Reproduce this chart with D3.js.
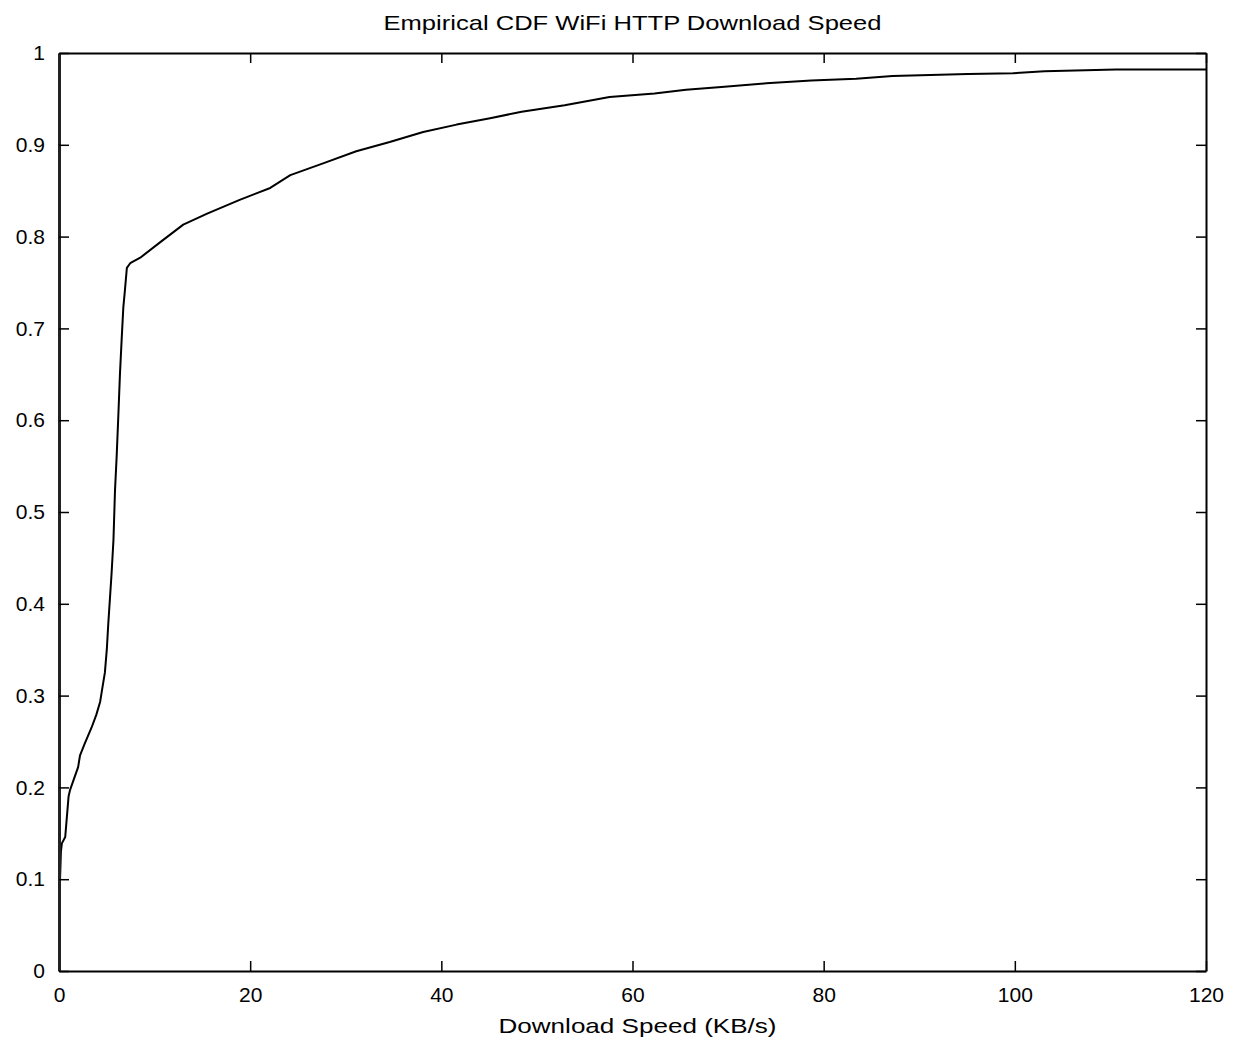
<!DOCTYPE html>
<html>
<head>
<meta charset="utf-8">
<script src="https://cdn.jsdelivr.net/npm/d3@7"></script>
<style>
  html, body { margin: 0; padding: 0; background: #fff; }
  svg { display: block; }
  text { font-family: "Liberation Sans", Arial, Helvetica, sans-serif; fill: #000; }
</style>
</head>
<body>
<svg id="chart" width="1245" height="1044"></svg>
<script>
const titleText = "Empirical CDF WiFi HTTP Download Speed";
const xLabelText = "Download Speed (KB/s)";
const xTicks = [0, 20, 40, 60, 80, 100, 120];
const yTicks = [0, 0.1, 0.2, 0.3, 0.4, 0.5, 0.6, 0.7, 0.8, 0.9, 1];
const yTickLabels = ["0", "0.1", "0.2", "0.3", "0.4", "0.5", "0.6", "0.7", "0.8", "0.9", "1"];

const speed = [0, 0.05, 0.2, 0.3, 0.65, 1.0, 1.15, 2.0, 2.2, 2.7, 3.4, 3.9, 4.3, 4.5, 4.8, 5.0, 5.16, 5.5, 5.7, 5.86, 6.03, 6.2, 6.38, 6.55, 6.73, 6.9, 7.1, 7.45, 8.5, 10.6, 13.0, 15.5, 18.9, 22.1, 24.2, 27.7, 31.1, 34.6, 38.1, 41.6, 45.1, 48.4, 52.9, 57.6, 62.3, 65.6, 69.3, 74.0, 78.7, 83.4, 87.2, 95.1, 99.8, 103.1, 110.6, 120];
const cdf = [0, 0.08, 0.13, 0.139, 0.146, 0.19, 0.197, 0.222, 0.235, 0.248, 0.265, 0.279, 0.293, 0.306, 0.325, 0.35, 0.379, 0.433, 0.47, 0.524, 0.56, 0.603, 0.651, 0.687, 0.723, 0.742, 0.766, 0.771, 0.777, 0.794, 0.813, 0.825, 0.840, 0.853, 0.867, 0.880, 0.893, 0.903, 0.914, 0.922, 0.929, 0.936, 0.943, 0.952, 0.956, 0.960, 0.963, 0.967, 0.970, 0.972, 0.975, 0.977, 0.978, 0.980, 0.982, 0.982];

const L = 59, R = 1206, T = 53, B = 971;
const svg = d3.select("#chart");
const x = d3.scaleLinear().domain([0, 120]).range([L, R]);
const y = d3.scaleLinear().domain([0, 1]).range([B, T]);
const tickLen = 10;

// Curve
const pts = speed.map((s, i) => [s, cdf[i]]);
svg.append("path")
  .datum(pts)
  .attr("fill", "none")
  .attr("stroke", "#000")
  .attr("stroke-width", 2)
  .attr("stroke-linejoin", "round")
  .attr("d", d3.line().x(d => x(d[0])).y(d => y(d[1])));

// Axes (MATLAB style box with inward ticks)
const fmtY = (d, i) => yTickLabels[i];
svg.append("g").attr("transform", `translate(0,${B})`)
  .call(d3.axisBottom(x).tickValues(xTicks).tickSizeInner(-tickLen).tickSizeOuter(0).tickPadding(16).tickFormat(d3.format("d")))
  .call(g => { g.select(".domain").attr("stroke-width", 2); g.selectAll("text").attr("font-size", 21); });
svg.append("g").attr("transform", `translate(0,${T})`)
  .call(d3.axisTop(x).tickValues(xTicks).tickSizeInner(-tickLen).tickSizeOuter(0).tickFormat(""))
  .call(g => g.select(".domain").attr("stroke-width", 2));
svg.append("g").attr("transform", `translate(${L},0)`)
  .call(d3.axisLeft(y).tickValues(yTicks).tickSizeInner(-tickLen).tickSizeOuter(0).tickPadding(14).tickFormat(fmtY))
  .call(g => { g.select(".domain").attr("stroke-width", 3).attr("stroke", "#222"); g.selectAll("text").attr("font-size", 21); });
svg.append("g").attr("transform", `translate(${R},0)`)
  .call(d3.axisRight(y).tickValues(yTicks).tickSizeInner(-tickLen).tickSizeOuter(0).tickFormat(""))
  .call(g => g.select(".domain").attr("stroke-width", 2));
svg.selectAll(".tick line").attr("stroke-width", 1.5);

// Title and label
svg.append("text").attr("x", (L + R) / 2).attr("y", 30).attr("text-anchor", "middle")
  .attr("font-size", 21).attr("textLength", 498).attr("lengthAdjust", "spacingAndGlyphs").text(titleText);
svg.append("text").attr("x", (L + R) / 2 + 5).attr("y", 1033).attr("text-anchor", "middle")
  .attr("font-size", 21).attr("textLength", 278).attr("lengthAdjust", "spacingAndGlyphs").text(xLabelText);
</script>
</body>
</html>
